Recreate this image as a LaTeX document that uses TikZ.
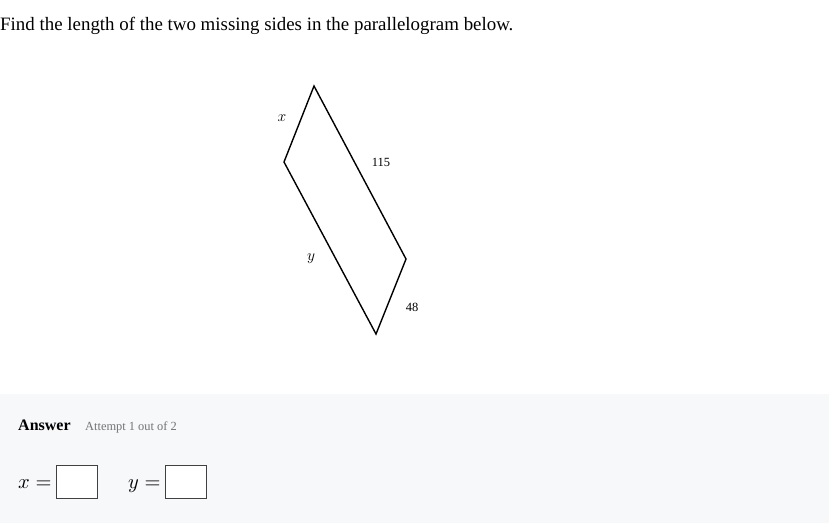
\documentclass[tikz,border=0pt]{standalone}
\usepackage{fontspec}
\setmainfont{Liberation Serif}
\begin{document}
\begin{tikzpicture}[x=1pt,y=-1pt,
  edge/.style={draw=black,line width=1.4pt,line join=miter},
  lbl/.style={inner sep=0pt,font=\fontsize{12.5}{14}\selectfont},
  ansbox/.style={draw=black!75,line width=0.8pt,fill=white,minimum width=41pt,minimum height=33pt,inner sep=0pt}]
\useasboundingbox (0,0) rectangle (829,523);
\fill[white] (0,0) rectangle (829,523);
\fill[color={rgb,255:red,247;green,248;blue,250}] (0,394) rectangle (829,523);
\node[anchor=base west,inner sep=0pt,font=\fontsize{18.9}{22}\selectfont] (title) at (0,30) {Find the length of the two missing sides in the parallelogram below.};
\coordinate (T) at (314,86);
\coordinate (L) at (284,162);
\coordinate (R) at (406,259);
\coordinate (B) at (376,334);
\draw[edge] (T) -- (R) -- (B) -- (L) -- cycle;
\node[lbl] (lx) at (282,118) {\scalebox{1.3}{$x$}};
\node[lbl] (l115) at (381,162) {115};
\node[lbl] (ly) at (311,259) {\scalebox{1.3}{$y$}};
\node[lbl] (l48) at (412,307) {48};
\node[anchor=base west,inner sep=0pt,font=\bfseries\fontsize{16}{18}\selectfont] (ans) at (18,430) {Answer};
\node[anchor=base west,inner sep=0pt,text=black!55,font=\fontsize{12.4}{14}\selectfont] (att) at (85,430) {Attempt 1 out of 2};
\node[anchor=base west,inner sep=0pt] (xeq) at (18,488) {\scalebox{2.05}{$x=$}};
\node[ansbox,anchor=north west] (bx) at (56,465) {};
\node[anchor=base west,inner sep=0pt] (yeq) at (128,488) {\scalebox{2.05}{$y=$}};
\node[ansbox,anchor=north west] (by) at (165,465) {};
\end{tikzpicture}
\end{document}
